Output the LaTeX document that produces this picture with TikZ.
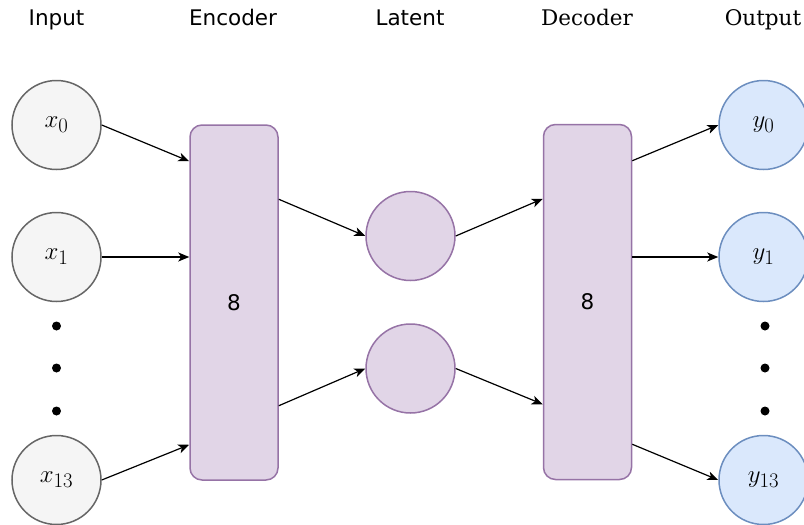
\documentclass[tikz,border=0pt]{standalone}
\usepackage{fontspec}
\newfontfamily\labelsans{DejaVu Sans}
\newfontfamily\labelserif{DejaVu Serif}
\usetikzlibrary{arrows.meta}
\definecolor{ingray}{HTML}{F5F5F5}
\definecolor{inedge}{HTML}{666666}
\definecolor{lilac}{HTML}{E1D5E7}
\definecolor{lilacedge}{HTML}{9673A6}
\definecolor{outblue}{HTML}{DAE8FC}
\definecolor{outedge}{HTML}{6C8EBF}
\begin{document}
\begin{tikzpicture}[x=1pt,y=-1pt,
	neuron/.style={circle,minimum size=89pt,inner sep=0pt,line width=1.5pt,font=\fontsize{24.88}{30}\selectfont},
	innode/.style={neuron,draw=inedge,fill=ingray},
	latnode/.style={neuron,draw=lilacedge,fill=lilac},
	outnode/.style={neuron,draw=outedge,fill=outblue},
	codebox/.style={draw=lilacedge,fill=lilac,line width=1.5pt,rounded corners=12pt,minimum width=88pt,minimum height=355pt,font=\labelsans\fontsize{21.5}{26}\selectfont},
	sanstitle/.style={anchor=base,font=\labelsans\fontsize{21.5}{26}\selectfont},
	seriftitle/.style={anchor=base,font=\labelserif\fontsize{21.5}{26}\selectfont},
	conn/.style={-{Stealth[length=11pt,width=9pt,inset=3pt]},line width=1.2pt}]
		\useasboundingbox (0,0) rectangle (804,525);
		% column titles
		\node[sanstitle] (tin) at (56.5,25) {Input};
		\node[sanstitle] (tenc) at (233,25) {Encoder};
		\node[sanstitle] (tlat) at (410,25) {Latent};
		\node[seriftitle] (tdec) at (587,25) {Decoder};
		\node[seriftitle] (tout) at (763,25) {Output};
		% input layer
		\node[innode] (x0) at (56.5,125) {$x_0$};
		\node[innode] (x1) at (56.5,257) {$x_1$};
		\node[innode] (x13) at (56.5,480) {$x_{13}$};
		\foreach \y in {326,368,411}
		{
			\fill (56.5,\y) circle (4.5pt);
		}
		% encoder / latent / decoder
		\node[codebox] (enc) at (234,302.5) {\raisebox{-3pt}{8}};
		\node[latnode] (lat1) at (410.5,236) {};
		\node[latnode] (lat2) at (410.5,368.5) {};
		\node[codebox] (dec) at (587.5,302) {\raisebox{-3pt}{8}};
		% output layer
		\node[outnode] (y0) at (763.5,125) {$y_0$};
		\node[outnode] (y1) at (763.5,257) {$y_1$};
		\node[outnode] (y13) at (763.5,480) {$y_{13}$};
		\foreach \y in {326,368,411}
		{
			\fill (765,\y) circle (4.5pt);
		}
		% connections
		\draw[conn] (x0.east) -- ([yshift=-37pt]enc.north west);
		\draw[conn] (x1.east) -- (x1.east -| enc.west);
		\draw[conn] (x13.east) -- ([yshift=36pt]enc.south west);
		\draw[conn] ([yshift=-75pt]enc.north east) -- (lat1.west);
		\draw[conn] ([yshift=75pt]enc.south east) -- (lat2.west);
		\draw[conn] (lat1.east) -- ([yshift=-75pt]dec.north west);
		\draw[conn] (lat2.east) -- ([yshift=76pt]dec.south west);
		\draw[conn] ([yshift=-37pt]dec.north east) -- (y0.west);
		\draw[conn] (dec.east |- y1.west) -- (y1.west);
		\draw[conn] ([yshift=36pt]dec.south east) -- (y13.west);
\end{tikzpicture}
\end{document}
